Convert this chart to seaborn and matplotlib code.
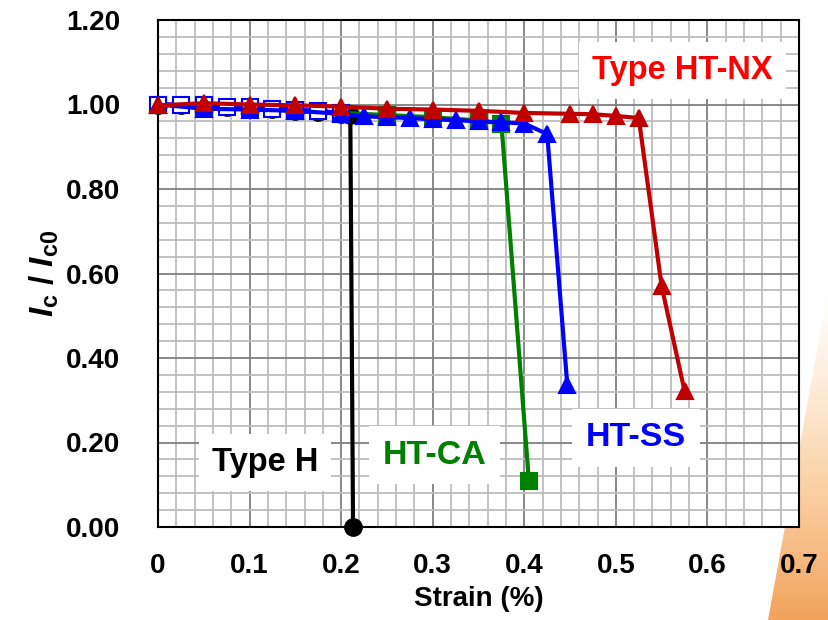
import numpy as np
import matplotlib
matplotlib.use('Agg')
import matplotlib.pyplot as plt
import seaborn as sns
from matplotlib.patches import Polygon
from matplotlib.ticker import MultipleLocator

# Type H (black circles)
h_strain = [0.0, 0.025, 0.05, 0.075, 0.1, 0.125, 0.15, 0.175, 0.2, 0.21, 0.213]
h_ic = [1.0, 0.998, 0.995, 0.993, 0.99, 0.99, 0.985, 0.982, 0.978, 0.975, 0.0]

# HT-CA (green squares)
ca_strain = [0.0, 0.05, 0.1, 0.15, 0.2, 0.25, 0.3, 0.35, 0.375, 0.405]
ca_ic = [1.0, 0.995, 0.99, 0.985, 0.98, 0.975, 0.97, 0.962, 0.955, 0.11]

# open squares (early points)
os_strain = [0.0, 0.025, 0.05, 0.075, 0.1, 0.125, 0.15, 0.175, 0.2]
os_ic = [1.0, 1.0, 0.998, 0.995, 0.993, 0.99, 0.988, 0.985, 0.98]

# HT-SS (blue triangles)
ss_strain = [0.0, 0.05, 0.1, 0.15, 0.2, 0.225, 0.25, 0.275, 0.3, 0.325, 0.35, 0.375, 0.4, 0.425, 0.447]
ss_ic = [1.0, 0.99, 0.988, 0.985, 0.978, 0.972, 0.97, 0.968, 0.965, 0.963, 0.96, 0.958, 0.955, 0.93, 0.335]

# Type HT-NX (red triangles)
nx_strain = [0.0, 0.05, 0.1, 0.15, 0.2, 0.25, 0.3, 0.35, 0.4, 0.45, 0.475, 0.5, 0.525, 0.55, 0.575]
nx_ic = [0.998, 1.003, 1.0, 0.998, 0.995, 0.99, 0.988, 0.985, 0.98, 0.978, 0.977, 0.973, 0.968, 0.57, 0.322]

labels = ['Type HT-NX', 'HT-SS', 'HT-CA', 'Type H']
x_ticks = [0.0, 0.1, 0.2, 0.3, 0.4, 0.5, 0.6, 0.7]
x_ticklabels = ['0', '0.1', '0.2', '0.3', '0.4', '0.5', '0.6', '0.7']
y_ticks = [0.0, 0.2, 0.4, 0.6, 0.8, 1.0, 1.2]
y_ticklabels = ['0.00', '0.20', '0.40', '0.60', '0.80', '1.00', '1.20']

sns.set_style('white')
plt.rcParams['font.family'] = ['Liberation Sans', 'DejaVu Sans']
plt.rcParams['font.weight'] = 'bold'
plt.rcParams['text.color'] = 'black'
plt.rcParams['axes.labelcolor'] = 'black'
plt.rcParams['xtick.color'] = 'black'
plt.rcParams['ytick.color'] = 'black'
plt.rcParams['mathtext.fontset'] = 'custom'
plt.rcParams['mathtext.it'] = 'Liberation Sans:italic:bold'
plt.rcParams['mathtext.rm'] = 'Liberation Sans:bold'
plt.rcParams['mathtext.bf'] = 'Liberation Sans:bold'

fig = plt.figure(figsize=(8.29, 6.2), dpi=100)

# orange slide decoration in the bottom right corner
bg = fig.add_axes([0, 0, 1, 1], zorder=-5)
bg.set_xlim(0, 829)
bg.set_ylim(620, 0)
bg.axis('off')
grad = np.linspace(0, 1, 256)[:, None] ** 1.3
cmap = matplotlib.colors.LinearSegmentedColormap.from_list('o', ['#ffffff', '#fbd3a8', '#f2a35c'])
im = bg.imshow(grad, extent=(760, 829, 620, 280), cmap=cmap, aspect='auto')
tri = Polygon([(829, 285), (829, 620), (768, 620)], closed=True, transform=bg.transData)
im.set_clip_path(tri)

ax = fig.add_axes([158 / 829, 1 - 527 / 620, 641 / 829, 507 / 620])
ax.set_facecolor('white')

kw = dict(ax=ax, estimator=None, sort=False, linewidth=3, markersize=12, markeredgewidth=1.5, legend=False)
sns.lineplot(x=h_strain, y=h_ic, color='black', marker='o', markeredgecolor='black', zorder=3, **kw)
sns.lineplot(x=ca_strain, y=ca_ic, color='#008000', marker='s', markeredgecolor='#008000', zorder=4, **kw)
sns.lineplot(x=os_strain, y=os_ic, color='blue', marker='s', markerfacecolor='white', markeredgecolor='blue', zorder=5, **kw)
sns.lineplot(x=ss_strain, y=ss_ic, color='blue', marker='^', markeredgecolor='blue', zorder=6, **kw)
sns.lineplot(x=nx_strain, y=nx_ic, color='#c00000', marker='^', markeredgecolor='#c00000', zorder=7, **kw)
for line in ax.lines:
    line.set_clip_on(False)

ax.set_xlim(0, 0.7)
ax.set_ylim(0, 1.2)
ax.set_xticks(x_ticks)
ax.set_xticklabels(x_ticklabels)
ax.set_yticks(y_ticks)
ax.set_yticklabels(y_ticklabels)
ax.xaxis.set_minor_locator(MultipleLocator(0.02))
ax.yaxis.set_minor_locator(MultipleLocator(0.04))
ax.grid(which='minor', color='#bdbdbd', linewidth=1.3, zorder=0)
ax.grid(which='major', color='#7f7f7f', linewidth=1.3, zorder=0)
ax.set_axisbelow(True)
ax.tick_params(which='major', direction='in', length=6, width=1.5, labelsize=20)
ax.tick_params(axis='x', pad=19)
ax.tick_params(axis='y', pad=27)
ax.tick_params(which='minor', length=0)
for s in ax.spines.values():
    s.set_linewidth(1.5)
    s.set_color('black')

ax.set_xlabel('Strain (%)', fontsize=20, fontweight='bold', labelpad=5)
ax.set_ylabel(r'$I_{\rm c}$ / $I_{\rm c0}$', fontsize=24, fontweight='bold', labelpad=4)

box = dict(facecolor='white', edgecolor='none', boxstyle='square,pad=0.4')
ax.text(0.818, 0.900, labels[0], transform=ax.transAxes, color='#ff0000', fontsize=23.5,
        fontweight='bold', ha='center', va='center', bbox=box, zorder=10)
ax.text(0.746, 0.176, labels[1], transform=ax.transAxes, color='#0000ff', fontsize=24.5,
        fontweight='bold', ha='center', va='center', bbox=box, zorder=10)
ax.text(0.432, 0.142, labels[2], transform=ax.transAxes, color='#008000', fontsize=24.5,
        fontweight='bold', ha='center', va='center', bbox=box, zorder=10)
ax.text(0.167, 0.128, labels[3], transform=ax.transAxes, color='black', fontsize=23.5,
        fontweight='bold', ha='center', va='center', bbox=box, zorder=10)

fig.savefig('out.png', dpi=100)
plt.close(fig)
